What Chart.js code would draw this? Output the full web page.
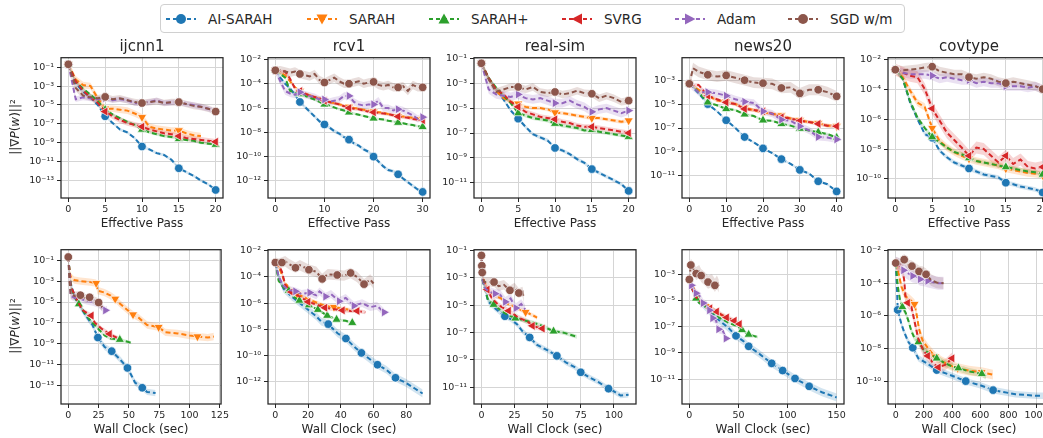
<!DOCTYPE html>
<html>
<head>
<meta charset="utf-8">
<script src="https://cdn.jsdelivr.net/npm/chart.js@4.4.1/dist/chart.umd.min.js"></script>
<style>
  body { margin: 0; width: 1043px; height: 438px; position: relative; overflow: hidden; background: #fff;
         font-family: "DejaVu Sans", sans-serif; color: #262626; }
  canvas { position: absolute; }
  .title { position: absolute; width: 162px; text-align: center; font-size: 15px; line-height: 18px; }
  .ylab { position: absolute; font-size: 12px; white-space: nowrap; transform: translate(-50%, -50%) rotate(-90deg); }
  #legend { position: absolute; left: 160px; top: 4px; width: 745px; height: 29px; border: 1px solid #d0d0d0;
            border-radius: 4px; box-sizing: border-box; }
  .item { position: absolute; top: 0; height: 27px; display: flex; align-items: center; font-size: 13.5px; }
  .item svg { margin-right: 12px; }
</style>
</head>
<body>
<div id="legend"></div>
<script>
// series, in legend order
const seriesNames = ['AI-SARAH', 'SARAH', 'SARAH+', 'SVRG', 'Adam', 'SGD w/m'];
const seriesKeys = ['ai', 'sarah', 'sarahp', 'svrg', 'adam', 'sgd'];
const datasetNames = ['ijcnn1', 'rcv1', 'real-sim', 'news20', 'covtype'];

// x ticks / y ticks (log10 exponents) per column
const xTicksPass = [[0, 5, 10, 15, 20], [0, 10, 20, 30], [0, 5, 10, 15, 20], [0, 10, 20, 30, 40], [0, 5, 10, 15, 20]];
const xTicksTime = [[0, 25, 50, 75, 100, 125], [0, 20, 40, 60, 80], [0, 25, 50, 75, 100], [0, 50, 100, 150], [0, 200, 400, 600, 800, 1000]];
const yTicksExp = [[-1, -3, -5, -7, -9, -11, -13], [-2, -4, -6, -8, -10, -12], [-1, -3, -5, -7, -9, -11], [-3, -5, -7, -9, -11], [-2, -4, -6, -8, -10]];

// axis ranges
const xRangePass = [[-1, 21], [-1.5, 31.5], [-1, 21], [-2, 42], [-1, 21]];
const xRangeTime = [[-6, 126], [-4.5, 94.5], [-5.6, 116.6], [-7.5, 157.5], [-55, 1095]];
const yRangePass = [[-14.85, 0], [-13.4, -1.86], [-12.2, -0.95], [-12.85, -1.12], [-11.27, -1.9]];
const yRangeTime = [[-14.75, 0], [-13.7, -1.92], [-12.2, -0.93], [-12.9, -1.13], [-11.4, -1.94]];

// ---- effective pass (values are log10 of ||grad P(w)||^2) ----
const ijcnn1Pass = {
  x: [0, 1, 2, 3, 4, 5, 6, 7, 8, 9, 10, 11, 12, 13, 14, 15, 16, 17, 18, 19, 20],
  ai: [-0.7, -2.7, -3.6, -4.2, -5.0, -6.2, -6.9, -7.6, -7.9, -8.5, -9.4, -9.7, -10.1, -10.3, -10.8, -11.7, -12.1, -12.5, -13.0, -13.4, -14.0],
  sarah: [-0.7, -2.3, -2.9, -3.0, -4.3, -5.4, -5.4, -5.5, -5.6, -5.9, -6.3, -7.3, -7.5, -7.6, -7.7, -7.7, -8.0, -8.2, -8.3],
  sarahp: [-0.7, -2.5, -3.3, -3.9, -4.6, -5.5, -6.0, -6.4, -6.8, -7.1, -7.6, -7.9, -8.1, -8.3, -8.4, -8.6, -8.7, -8.8, -9.0, -9.1, -9.2],
  svrg: [-0.7, -2.5, -3.5, -4.2, -4.8, -5.7, -6.2, -6.6, -6.9, -7.1, -7.3, -7.6, -7.8, -8.0, -8.1, -8.3, -8.5, -8.6, -8.7, -8.8, -8.9],
  adam: [-0.7, -4.4, -4.2, -4.3, -4.4, -4.3, -4.5, -4.4, -4.5, -4.8, -4.8, -4.7, -4.5, -4.8, -4.75, -4.7, -4.9, -5.0, -5.2, -5.4, -5.7],
  sgd: [-0.7, -3.2, -4.0, -4.2, -4.3, -4.15, -4.4, -4.3, -4.5, -4.7, -4.8, -4.7, -4.6, -4.8, -4.7, -4.7, -4.9, -5.1, -5.2, -5.4, -5.7]
};
const rcv1Pass = {
  x: [0, 1, 2, 3, 4, 5, 6, 7, 8, 9, 10, 11, 12, 13, 14, 15, 16, 17, 18, 19, 20, 21, 22, 23, 24, 25, 26, 27, 28, 29, 30],
  ai: [-2.9, -3.5, -4.0, -4.4, -4.9, -5.5, -5.9, -6.3, -6.7, -7.1, -7.35, -7.6, -7.9, -8.1, -8.4, -8.6, -8.9, -9.1, -9.4, -9.6, -10.0, -10.4, -10.8, -11.1, -11.2, -11.45, -11.8, -12.1, -12.4, -12.7, -12.9],
  sarah: [-2.9, -3.1, -3.3, -3.8, -4.3, -4.6, -4.8, -4.95, -5.1, -5.25, -5.4, -5.5, -5.6, -5.7, -5.8, -5.9, -6.0, -6.05, -6.15, -6.2, -6.3, -6.35, -6.4, -6.5, -6.6, -6.7, -6.7, -6.75, -6.8, -6.85, -6.9],
  sarahp: [-2.9, -3.2, -3.5, -4.6, -4.7, -4.85, -5.0, -5.15, -5.3, -5.5, -5.7, -5.8, -5.95, -6.1, -6.2, -6.35, -6.45, -6.55, -6.65, -6.75, -6.85, -6.9, -6.95, -7.05, -7.1, -7.2, -7.25, -7.35, -7.4, -7.5, -7.55],
  svrg: [-2.9, -3.0, -3.0, -3.6, -4.4, -4.6, -4.8, -5.0, -5.1, -5.2, -5.4, -5.5, -5.6, -5.7, -5.85, -6.0, -6.05, -6.1, -6.2, -6.3, -6.35, -6.4, -6.45, -6.5, -6.6, -6.7, -6.75, -6.8, -6.9, -6.95, -7.0],
  adam: [-2.9, -3.8, -4.6, -4.8, -4.9, -4.7, -4.9, -5.0, -5.1, -5.3, -5.3, -5.5, -5.4, -5.3, -5.0, -5.0, -5.5, -5.7, -5.8, -5.7, -5.7, -5.4, -6.0, -6.0, -6.2, -6.1, -6.2, -6.4, -6.6, -6.9, -6.75],
  sgd: [-2.9, -2.9, -3.0, -3.1, -3.0, -3.2, -3.3, -3.4, -3.2, -3.7, -3.9, -3.7, -3.5, -3.8, -4.0, -4.0, -3.9, -3.8, -4.0, -3.9, -3.85, -4.1, -4.2, -4.1, -4.3, -4.3, -4.2, -4.6, -4.1, -4.3, -4.3]
};
const realsimPass = {
  x: [0, 1, 2, 3, 4, 5, 6, 7, 8, 9, 10, 11, 12, 13, 14, 15, 16, 17, 18, 19, 20],
  ai: [-1.4, -2.6, -3.5, -4.3, -5.2, -5.85, -6.5, -7.1, -7.35, -7.6, -8.2, -8.4, -8.7, -9.1, -9.4, -9.9, -10.2, -10.5, -10.8, -11.1, -11.65],
  sarah: [-1.4, -2.6, -3.6, -4.2, -4.5, -4.65, -4.9, -5.0, -5.0, -5.1, -5.35, -5.4, -5.5, -5.6, -5.7, -5.8, -5.8, -5.9, -6.0, -6.1, -6.0],
  sarahp: [-1.4, -2.6, -3.35, -4.0, -4.6, -5.4, -5.6, -5.8, -5.9, -6.0, -6.25, -6.4, -6.5, -6.6, -6.8, -6.75, -6.9, -7.0, -7.1, -7.2, -7.3],
  svrg: [-1.4, -2.6, -3.5, -3.9, -4.5, -4.9, -5.3, -5.5, -5.7, -5.8, -5.9, -6.1, -6.2, -6.4, -6.5, -6.5, -6.6, -6.7, -6.8, -6.9, -7.0],
  adam: [-1.4, -3.5, -3.9, -4.0, -4.1, -3.9, -4.2, -4.3, -4.2, -4.4, -4.6, -4.6, -4.4, -4.7, -4.9, -5.3, -5.1, -5.0, -5.2, -5.4, -5.2],
  sgd: [-1.4, -2.7, -3.7, -3.5, -3.3, -3.3, -3.5, -3.3, -3.7, -3.8, -3.7, -3.9, -3.8, -3.6, -3.8, -3.85, -4.2, -4.0, -4.2, -4.5, -4.4]
};
const news20Pass = {
  x: [0, 1, 2.5, 5, 7.5, 10, 12.5, 15, 17.5, 20, 22.5, 25, 27.5, 30, 32.5, 35, 37.5, 40],
  ai: [-3.3, -3.6, -4.1, -5.0, -5.6, -6.35, -7.0, -7.75, -8.2, -8.7, -9.1, -9.6, -10.0, -10.5, -10.8, -11.45, -11.7, -12.3],
  sarah: [-3.3, -3.5, -3.8, -4.3, -4.7, -4.8, -5.0, -5.3, -5.5, -5.7, -5.8, -5.95, -6.2, -6.35, -6.5, -6.6, -6.8, -6.85],
  sarahp: [-3.3, -3.5, -4.0, -4.85, -5.1, -5.4, -5.5, -5.85, -6.0, -6.35, -6.4, -6.65, -6.8, -7.05, -7.2, -7.35, -7.5, -7.8],
  svrg: [-3.3, -3.4, -3.4, -4.3, -4.6, -4.85, -5.0, -5.4, -5.5, -5.6, -5.8, -6.1, -6.2, -6.4, -6.5, -6.65, -6.8, -6.85],
  adam: [-3.3, -3.6, -4.0, -4.0, -4.1, -4.3, -4.6, -4.8, -4.9, -5.6, -5.8, -6.3, -6.4, -6.85, -7.2, -7.75, -7.8, -7.95],
  sgd: [-3.3, -2.0, -2.3, -2.55, -2.7, -2.6, -2.8, -3.0, -3.2, -3.25, -3.3, -3.65, -3.6, -4.1, -3.8, -3.8, -4.0, -4.35]
};
const covtypePass = {
  x: [0, 1, 2, 3, 4, 5, 6, 7, 8, 9, 10, 11, 12, 13, 14, 15, 16, 17, 18, 19, 20],
  ai: [-2.7, -3.3, -4.9, -6.0, -7.0, -7.25, -8.1, -8.55, -8.9, -9.1, -9.3, -9.5, -9.7, -9.8, -9.9, -10.25, -10.35, -10.5, -10.6, -10.7, -10.9],
  sarah: [-2.7, -3.2, -4.1, -4.9, -5.2, -6.6, -7.45, -7.9, -8.2, -8.45, -8.65, -8.8, -8.9, -9.0, -9.1, -9.3, -9.4, -9.5, -9.6, -9.65, -9.75],
  sarahp: [-2.7, -3.3, -4.8, -5.9, -6.6, -7.2, -7.55, -7.9, -8.2, -8.35, -8.6, -8.8, -8.9, -9.0, -9.1, -9.2, -9.3, -9.4, -9.5, -9.55, -9.7],
  svrg: [-2.7, -2.9, -3.1, -3.2, -4.0, -5.3, -6.1, -6.9, -7.4, -7.9, -8.45, -7.9, -8.0, -8.45, -8.9, -8.45, -9.0, -8.7, -9.2, -9.3, -9.2],
  adam: [-2.7, -2.9, -3.0, -3.0, -3.0, -3.1, -3.3, -3.2, -3.3, -3.4, -3.4, -3.6, -3.5, -3.6, -3.6, -3.8, -3.8, -3.8, -3.9, -3.8, -4.0],
  sgd: [-2.7, -2.75, -2.7, -2.65, -2.55, -2.5, -2.8, -2.9, -3.0, -3.0, -3.2, -3.3, -3.2, -3.3, -3.5, -3.6, -3.5, -3.6, -3.7, -3.8, -4.0]
};

// ---- wall clock: [seconds, log10 value, marker?] ----
const ijcnn1Time = {
  ai: [[0, -0.7], [2, -3.2], [5, -4.4], [10, -5.5], [15, -6.4], [20, -7.2], [24.4, -8.4, 1], [30, -9.3], [35.8, -9.7, 1], [42, -10.4], [48.8, -11.3, 1], [52, -12.0], [55, -12.7], [61, -13.2, 1], [65, -13.6], [72, -13.7]],
  sarah: [[0, -0.7], [1, -2.0], [2, -2.6], [5, -2.9], [10, -3.0], [18, -3.1], [23, -3.2, 1], [24, -3.9], [30, -4.1], [35, -4.4], [38.7, -4.7, 1], [42, -5.1], [48, -5.7], [53.4, -6.2, 1], [58, -6.5], [65, -7.2], [74.5, -7.4, 1], [80, -7.9], [90, -8.0], [100, -8.2], [106.5, -8.3, 1], [115, -8.4], [120, -8.3]],
  sarahp: [[0, -0.7], [1, -2.0], [2, -3.5], [5, -4.5], [8.7, -5.2, 1], [15, -6.3], [20, -7.0], [25, -7.6], [30, -8.2], [35, -8.5], [42.5, -8.6, 1], [52, -8.9]],
  svrg: [[0, -0.7], [1, -2.0], [2, -3.5], [4, -4.0], [8, -5.0], [12, -5.8], [19, -6.3, 1], [22, -7.0], [28, -7.6], [34, -8.05, 1], [38, -8.3], [42, -8.5]],
  adam: [[0, -0.7], [2, -4.4], [5, -4.6], [10, -4.7], [15, -4.9], [20, -5.0], [25, -5.2], [30.6, -5.8, 1], [32, -5.7]],
  sgd: [[0, -0.7, 1], [1, -3.0], [2, -4.3], [5, -4.4], [10, -4.35, 1], [15, -4.7], [17.6, -4.55, 1], [22, -4.9], [25, -5.05, 1], [28, -5.5]]
};
const rcv1Time = {
  ai: [[0, -2.9], [2, -4.0], [5, -4.9], [10, -5.5], [15, -6.0], [20, -6.5], [25, -7.0], [28, -7.4], [32.3, -7.6, 1], [38, -8.3], [43.1, -8.7, 1], [48, -9.3], [52.6, -9.8, 1], [58, -10.3], [62.4, -10.7, 1], [68, -11.1], [73.4, -11.7, 1], [80, -12.1], [85, -12.5], [90, -12.9]],
  sarah: [[0, -2.9], [3, -3.5], [6, -4.5], [10, -5.0], [13.3, -5.3, 1], [20, -5.7], [25, -5.95], [30, -6.2], [35.8, -6.3, 1], [40, -6.4], [45, -6.5], [50, -6.6]],
  sarahp: [[0, -2.9], [2, -4.3], [5, -4.8], [8.2, -5.05, 1], [11, -5.5], [14.7, -5.8, 1], [20.5, -6.15, 1], [26, -6.5, 1], [31.7, -6.95, 1], [37.4, -7.25, 1], [43, -7.35], [47, -7.5, 1]],
  svrg: [[0, -2.9], [2, -3.1], [4, -3.6], [6, -4.6], [9.8, -5.15, 1], [15, -5.5], [20, -5.9, 1], [25, -6.1], [30.3, -6.35, 1], [35, -6.45], [41, -6.55, 1], [46, -6.6], [50, -6.6, 1], [55, -6.7]],
  adam: [[0, -2.9], [2, -4.0], [5, -4.7], [8, -5.0], [12.3, -5.1, 1], [16, -5.3], [21, -5.2, 1], [25, -5.4], [27, -5.1], [30.7, -5.5, 1], [34, -5.3], [39, -5.85, 1], [43, -5.6], [48, -6.2, 1], [53, -6.0], [58, -6.3], [62, -6.2], [66.5, -6.7, 1]],
  sgd: [[0, -2.9, 1], [2, -3.0], [4, -2.9, 1], [6, -2.8], [8, -3.0], [12.3, -3.3, 1], [15, -3.1], [20.5, -3.45, 1], [25, -3.6], [28.6, -4.15, 1], [32, -3.8], [37.8, -3.85, 1], [42, -3.9], [46, -3.7, 1], [50, -4.0], [54.2, -4.55, 1], [58, -4.2], [60, -4.5]]
};
const realsimTime = {
  ai: [[0, -1.35], [1, -3.2], [5, -4.7], [10, -5.2], [15, -5.6], [17.7, -5.8, 1], [22, -6.0], [27, -6.4], [31, -6.9], [36.4, -7.35, 1], [42, -7.9], [50, -8.3], [56.9, -8.7, 1], [64, -9.2], [70, -9.5], [74.9, -9.9, 1], [82, -10.3], [88, -10.6], [95.9, -11.1, 1], [100, -11.3], [105, -11.6], [111, -11.55]],
  sarah: [[0, -1.35], [1, -3.0], [5, -3.8], [10, -4.3], [15, -4.5], [20, -4.9], [25, -5.1], [29, -5.3], [33.3, -5.5, 1], [36, -5.6], [42, -5.9]],
  sarahp: [[0, -1.35], [1, -3.2], [5, -4.6], [9.2, -4.95, 1], [15, -5.4], [20, -5.7], [25.6, -5.95, 1], [32, -6.1], [40, -6.3], [46, -6.5], [54.4, -6.9, 1], [62, -7.0], [72, -7.3]],
  svrg: [[0, -1.35], [1, -3.1], [4.4, -3.85, 1], [8, -4.5], [13, -5.0], [20.5, -5.4, 1], [28, -5.9], [35, -6.2], [38.5, -6.5, 1], [42, -6.6], [46, -6.7, 1]],
  adam: [[0, -1.35], [1, -3.2], [3, -3.8], [6, -4.0], [10.3, -4.15, 1], [14, -4.2], [18, -4.75, 1], [22, -4.5], [26, -5.2, 1], [30, -4.9], [33, -5.3]],
  sgd: [[0, -1.35, 1], [0.3, -2.1, 1], [0.6, -2.6, 1], [2, -3.3], [5, -3.3], [9.5, -3.3, 1], [13, -3.6], [17, -3.5], [21.5, -3.9, 1], [25, -3.7], [28.2, -4.1, 1], [31, -4.0], [32, -4.5]]
};
const news20Time = {
  ai: [[0, -3.4], [5, -4.6], [10, -5.0], [15, -5.4], [20, -5.8], [30, -6.5], [40, -7.1], [47.5, -7.7, 1], [55, -8.1], [60.4, -8.5, 1], [70, -9.0], [83.8, -9.8, 1], [95, -10.35, 1], [107.6, -10.95, 1], [122, -11.55, 1], [135, -12.0], [150, -12.4]],
  sarah: [[0, -3.4], [10, -4.9], [20, -5.4], [30, -6.0], [40, -6.4], [48, -6.7]],
  sarahp: [[0, -3.4], [6.8, -4.85, 1], [10, -5.2], [15, -5.4], [20, -5.7], [25, -6.0], [30, -6.3], [40, -6.7], [50, -7.0], [53.6, -7.25, 1], [60.4, -7.6, 1], [70, -7.8]],
  svrg: [[0, -3.4], [5, -4.6], [10, -5.0], [16, -5.3], [21, -5.6, 1], [27.8, -5.85, 1], [33, -6.1], [38, -6.3, 1], [45.8, -6.55, 1], [51, -6.8, 1]],
  adam: [[0, -3.4], [2, -3.85, 1], [5, -4.2], [6.8, -4.45, 1], [10, -4.6], [14, -5.2, 1], [17, -5.3], [20.4, -5.75, 1], [23.7, -6.35, 1], [27, -6.5], [29.8, -7.2, 1], [34, -7.3], [37.3, -7.9, 1]],
  sgd: [[0, -3.4, 1], [1.5, -2.3, 1], [4, -2.6], [7, -2.95, 1], [10, -2.8], [12, -3.1, 1], [15, -3.3], [19, -3.6, 1], [23, -3.5], [26, -3.85, 1], [28, -3.6], [30, -3.9]]
};
const covtypeTime = {
  ai: [[0, -2.76], [10, -4.6], [14, -5.63, 1], [25, -6.0], [40, -6.5], [60, -7.0], [90, -7.6], [121, -7.95, 1], [160, -8.6], [220, -8.9], [291, -9.32, 1], [380, -9.6], [497, -10.0, 1], [600, -10.25], [691, -10.55, 1], [850, -10.8], [1000, -10.9], [1100, -10.9]],
  sarah: [[0, -2.76], [20, -3.4], [40, -4.2], [70, -4.8], [100, -5.0], [133, -5.28, 1], [150, -6.0], [165, -6.8], [190, -7.5], [230, -8.0], [279, -8.5, 1], [330, -8.8], [380, -9.0], [440, -9.2, 1], [520, -9.35], [610, -9.45, 1], [690, -9.6]],
  sarahp: [[0, -2.76], [15, -4.2], [30, -5.0], [47, -5.45, 1], [70, -5.8], [90, -6.3], [110, -6.9], [130, -7.3], [161, -7.6, 1], [200, -8.1], [240, -8.3], [291, -8.6, 1], [350, -8.9], [400, -9.1], [445, -9.2, 1], [520, -9.4], [611, -9.55, 1], [640, -9.7]],
  svrg: [[0, -2.76], [30, -3.0], [50, -3.3], [60, -3.8], [70, -4.9], [85, -5.2, 1], [110, -5.4], [125, -6.0], [140, -6.6], [160, -7.4], [195, -8.1], [227, -8.45, 1], [265, -8.9], [303, -9.15, 1], [350, -9.0], [400, -8.6, 1]],
  adam: [[0, -2.76], [30, -2.9], [55, -3.2, 1], [90, -3.4], [120, -3.55, 1], [150, -3.6], [173, -3.75, 1], [210, -3.8], [227, -3.85, 1], [300, -4.0], [340, -4.0]],
  sgd: [[0, -2.76, 1], [30, -2.8], [60, -2.55, 1], [90, -2.9], [115, -2.95, 1], [140, -3.1], [165, -3.27, 1], [190, -3.3], [215, -3.45, 1], [250, -3.8], [290, -3.95], [340, -4.0]]
};

// half-width of the shaded spread around each mean curve, in decades (series order as seriesKeys)
const passBand = [
  [0.15, 0.35, 0.15, 0.3, 0.3, 0.35],
  [0.15, 0.1, 0.1, 0.15, 0.3, 0.35],
  [0.15, 0.15, 0.15, 0.2, 0.35, 0.3],
  [0.1, 0.15, 0.1, 0.15, 0.3, 0.45],
  [0.15, 0.25, 0.15, 0.4, 0.3, 0.3]
];
const timeBand = [
  [0.3, 0.35, 0.15, 0.2, 0.35, 0.4],
  [0.3, 0.15, 0.1, 0.15, 0.3, 0.4],
  [0.2, 0.15, 0.15, 0.2, 0.35, 0.35],
  [0.3, 0.15, 0.1, 0.2, 0.3, 0.5],
  [0.2, 0.3, 0.2, 0.35, 0.4, 0.35]
];

const passData = [ijcnn1Pass, rcv1Pass, realsimPass, news20Pass, covtypePass];
const timeData = [ijcnn1Time, rcv1Time, realsimTime, news20Time, covtypeTime];

// styling
const colors = ['#1f77b4', '#ff7f0e', '#2ca02c', '#d62728', '#9467bd', '#8c564b'];
const bandColors = ['rgba(31,119,180,0.2)', 'rgba(255,127,14,0.2)', 'rgba(44,160,44,0.2)',
                    'rgba(214,39,40,0.2)', 'rgba(148,103,189,0.2)', 'rgba(140,86,75,0.2)'];
const shapes = ['circle', 'triangle', 'triangle', 'triangle', 'triangle', 'circle'];
const rotations = [0, 180, 0, 270, 90, 0];
const lefts = [61, 268, 474, 682, 888];
const plotW = 162;
const rows = [{ top: 57, h: 141 }, { top: 249, h: 155 }];

const SUP = { '-': '\u207b', '0': '\u2070', '1': '\u00b9', '2': '\u00b2', '3': '\u00b3', '4': '\u2074',
              '5': '\u2075', '6': '\u2076', '7': '\u2077', '8': '\u2078', '9': '\u2079' };
const sup = s => String(s).split('').map(c => SUP[c]).join('');

// spines on all four sides, drawn above the lines
const framePlugin = {
  id: 'frame',
  afterDatasetsDraw(chart) {
    const { ctx, chartArea: a } = chart;
    ctx.save();
    ctx.strokeStyle = '#262626';
    ctx.lineWidth = 1.25;
    ctx.strokeRect(a.left, a.top, a.right - a.left, a.bottom - a.top);
    ctx.restore();
  }
};

function makeDatasets(points, bands) {
  const sets = [];
  // shaded spreads first (drawn underneath)
  points.forEach((pts, i) => {
    const w = bands[i];
    sets.push({
      data: pts.map(p => ({ x: p.x, y: Math.pow(10, p.e + w) })),
      borderWidth: 0, pointRadius: 0, tension: 0,
      backgroundColor: bandColors[i], fill: '+1', order: 20
    });
    sets.push({
      data: pts.map(p => ({ x: p.x, y: Math.pow(10, p.e - w) })),
      borderWidth: 0, pointRadius: 0, tension: 0, fill: false, order: 20
    });
  });
  points.forEach((pts, i) => {
    sets.push({
      label: seriesNames[i],
      data: pts.map(p => ({ x: p.x, y: Math.pow(10, p.e) })),
      borderColor: colors[i],
      backgroundColor: colors[i],
      borderWidth: 2,
      borderDash: [5, 3],
      tension: 0,
      fill: false,
      pointStyle: shapes[i],
      pointRotation: rotations[i],
      pointRadius: pts.map(p => p.m ? (shapes[i] === 'circle' ? 4.3 : 5.3) : 0),
      pointBackgroundColor: colors[i],
      pointBorderColor: '#ffffff',
      pointBorderWidth: 0.7,
      order: 5 - i
    });
  });
  return sets;
}

function makePlot(col, row, datasets, xTicks, xRange, yRange, xTitle) {
  const padL = 60, padT = 8, padR = 8, axisH = 33;
  const r = rows[row];
  const canvas = document.createElement('canvas');
  canvas.width = plotW + padL + padR;
  canvas.height = r.h + padT + axisH;
  canvas.style.left = (lefts[col] - padL) + 'px';
  canvas.style.top = (r.top - padT) + 'px';
  document.body.appendChild(canvas);

  new Chart(canvas, {
    type: 'line',
    data: { datasets },
    plugins: [framePlugin],
    options: {
      responsive: false,
      animation: false,
      events: [],
      layout: { padding: { top: padT, right: padR, left: 0, bottom: 0 } },
      plugins: { legend: { display: false }, tooltip: { enabled: false }, filler: { propagate: false } },
      scales: {
        x: {
          type: 'linear',
          min: xRange[0], max: xRange[1],
          afterBuildTicks: s => { s.ticks = xTicks.map(v => ({ value: v })); },
          afterFit: s => { s.height = axisH; },
          grid: { color: '#d5d5d5', lineWidth: 1, tickLength: 4, tickColor: '#262626' },
          border: { display: false },
          ticks: { color: '#262626', font: { family: 'DejaVu Sans', size: 9.5 }, padding: 2, maxRotation: 0, autoSkip: false,
                   callback: v => String(v) },
          title: { display: true, text: xTitle, color: '#262626', font: { family: 'DejaVu Sans', size: 12 }, padding: 0 }
        },
        y: {
          type: 'logarithmic',
          min: Math.pow(10, yRange[0]), max: Math.pow(10, yRange[1]),
          afterBuildTicks: s => { s.ticks = yTicksExp[col].map(e => ({ value: Math.pow(10, e) })); },
          afterFit: s => { s.width = padL; },
          grid: { color: '#d5d5d5', lineWidth: 1, tickLength: 4, tickColor: '#262626' },
          border: { display: false },
          ticks: {
            color: '#262626', font: { family: 'DejaVu Sans', size: 9.5 }, padding: 3, autoSkip: false,
            callback: v => '10' + sup(Math.round(Math.log10(v)))
          }
        }
      }
    }
  });
}

// build the ten panels
datasetNames.forEach((name, col) => {
  const pd = passData[col];
  const passPts = seriesKeys.map(k => pd[k].map((e, j) => ({ x: pd.x[j], e, m: pd.x[j] % 5 === 0 })));
  makePlot(col, 0, makeDatasets(passPts, passBand[col]), xTicksPass[col], xRangePass[col], yRangePass[col], 'Effective Pass');

  const td = timeData[col];
  const timePts = seriesKeys.map(k => td[k].map(p => ({ x: p[0], e: p[1], m: p[2] === 1 })));
  makePlot(col, 1, makeDatasets(timePts, timeBand[col]), xTicksTime[col], xRangeTime[col], yRangeTime[col], 'Wall Clock (sec)');

  const t = document.createElement('div');
  t.className = 'title';
  t.textContent = name;
  t.style.left = lefts[col] + 'px';
  t.style.top = '37px';
  document.body.appendChild(t);
});

// y axis labels
[127, 326].forEach(cy => {
  const d = document.createElement('div');
  d.className = 'ylab';
  d.innerHTML = '||\u2207<i>P</i>(<i>w</i>)||\u00b2';
  d.style.left = '15px';
  d.style.top = cy + 'px';
  document.body.appendChild(d);
});

// legend
const legendSymbol = (i) => {
  const c = colors[i];
  let mk;
  if (shapes[i] === 'circle') mk = `<circle cx="15" cy="6" r="5" fill="${c}"/>`;
  else {
    const pts = { 0: '15,0.5 9.5,10.5 20.5,10.5', 180: '15,11.5 9.5,1.5 20.5,1.5', 270: '9.5,6 20,0.5 20,11.5', 90: '20.5,6 10,0.5 10,11.5' }[rotations[i]];
    mk = `<polygon points="${pts}" fill="${c}"/>`;
  }
  return `<svg width="30" height="12"><line x1="0" y1="6" x2="30" y2="6" stroke="${c}" stroke-width="2.2" stroke-dasharray="4,3"/>${mk}</svg>`;
};
const legendLefts = [5, 146, 268, 401, 514, 627];
const legend = document.getElementById('legend');
seriesNames.forEach((n, i) => {
  const it = document.createElement('div');
  it.className = 'item';
  it.style.left = legendLefts[i] + 'px';
  it.innerHTML = legendSymbol(i) + '<span>' + n + '</span>';
  legend.appendChild(it);
});
</script>
</body>
</html>
